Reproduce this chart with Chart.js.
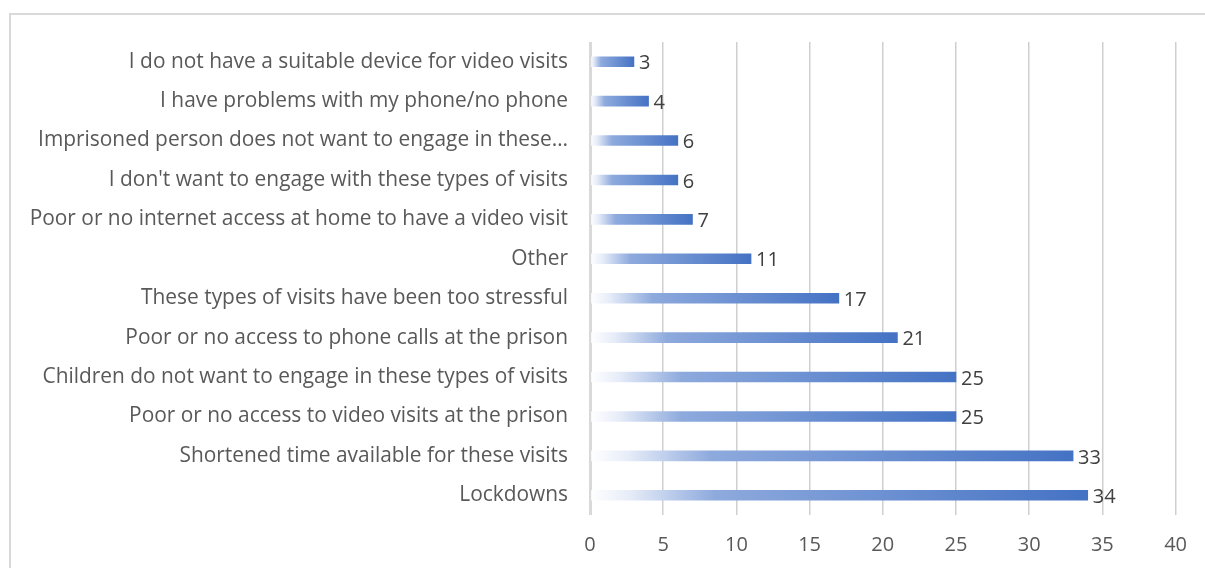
<!DOCTYPE html>
<html>
<head>
<meta charset="utf-8">
<script src="https://cdn.jsdelivr.net/npm/chart.js"></script>
<style>
  html, body { margin: 0; padding: 0; background: #fff; }
  #wrap { position: relative; width: 1205px; height: 568px; overflow: hidden; }
  #frame { position: absolute; left: 9px; top: 13px; width: 1300px; height: 700px;
           border-top: 2px solid #d9d9d9; border-left: 2px solid #d9d9d9; }
  canvas { position: absolute; left: 0; top: 0; }
</style>
</head>
<body>
<div id="wrap">
  <div id="frame"></div>
  <canvas id="myChart" width="1205" height="568"></canvas>
</div>
<script>
const razones = [
  "I do not have a suitable device for video visits",
  "I have problems with my phone/no phone",
  "Imprisoned person does not want to engage in these…",
  "I don't want to engage with these types of visits",
  "Poor or no internet access at home to have a video visit",
  "Other",
  "These types of visits have been too stressful",
  "Poor or no access to phone calls at the prison",
  "Children do not want to engage in these types of visits",
  "Poor or no access to video visits at the prison",
  "Shortened time available for these visits",
  "Lockdowns"
];
const respuestas = [3, 4, 6, 6, 7, 11, 17, 21, 25, 25, 33, 34];
const ticksX = [0, 5, 10, 15, 20, 25, 30, 35, 40];

const fuenteY = { family: "'Open Sans', sans-serif", size: 20.9 };
const fuente = { family: "'Open Sans', sans-serif", size: 20 };

// degradado de blanco a azul en cada barra
function relleno(context) {
  const chart = context.chart;
  const x = chart.scales.x;
  if (!x || !chart.chartArea) return '#4472c4';
  const v = context.raw;
  const x0 = x.getPixelForValue(0);
  const x1 = x.getPixelForValue(v);
  const g = chart.ctx.createLinearGradient(x0, 0, x1, 0);
  g.addColorStop(0, '#ffffff');
  g.addColorStop(0.08, '#e6ecf8');
  g.addColorStop(0.25, '#8eaadd');
  g.addColorStop(1, '#4472c4');
  return g;
}

const etiquetas = {
  id: 'etiquetas',
  afterDatasetsDraw(chart) {
    const ctx = chart.ctx;
    const meta = chart.getDatasetMeta(0);
    ctx.save();
    ctx.font = fuente.size + 'px ' + fuente.family;
    ctx.fillStyle = '#404040';
    ctx.textAlign = 'left';
    ctx.textBaseline = 'middle';
    meta.data.forEach((bar, i) => {
      ctx.fillText(String(respuestas[i]), bar.x + 5, bar.y + 2);
    });
    ctx.restore();
  }
};

const ctx = document.getElementById('myChart');

new Chart(ctx, {
  type: 'bar',
  data: {
    labels: razones,
    datasets: [{
      data: respuestas,
      backgroundColor: relleno,
      barThickness: 10,
      borderWidth: 0
    }]
  },
  options: {
    indexAxis: 'y',
    responsive: false,
    animation: false,
    layout: { padding: { top: 42, right: 29, left: 0, bottom: 0 } },
    plugins: { legend: { display: false }, tooltip: { enabled: false } },
    scales: {
      x: {
        min: 0,
        max: 40,
        afterBuildTicks(scale) {
          scale.ticks = ticksX.map(v => ({ value: v }));
        },
        afterFit(scale) { scale.height = 53; },
        border: { display: false },
        grid: {
          drawTicks: false,
          color: ctx => ctx.index === 0 ? '#d9d9d9' : '#cfcfcf',
          lineWidth: ctx => ctx.index === 0 ? 3 : 1.5
        },
        ticks: { color: '#595959', font: fuente, padding: 18 }
      },
      y: {
        afterFit(scale) { scale.width = 590; },
        border: { display: false },
        grid: { display: false, drawTicks: false },
        ticks: { color: '#595959', font: fuenteY, padding: 22, autoSkip: false }
      }
    }
  },
  plugins: [etiquetas]
});
</script>
</body>
</html>
